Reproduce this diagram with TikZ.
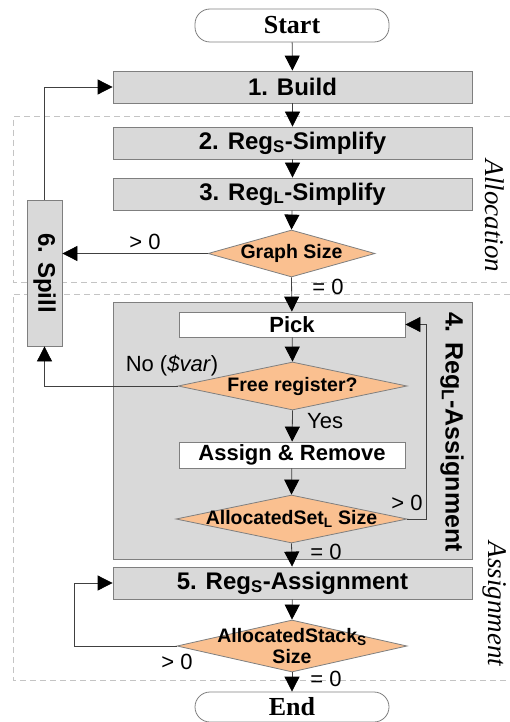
\documentclass[tikz,border=0pt]{standalone}
\usepackage{fontspec}
\usepackage{graphicx}
\setmainfont{Liberation Sans}
\newfontfamily\serifface{Liberation Serif}
\usetikzlibrary{shapes.geometric,arrows.meta}
\definecolor{boxgray}{HTML}{D9D9D9}
\definecolor{edgegray}{HTML}{7F7F7F}
\definecolor{peach}{HTML}{FAC090}
\definecolor{dashgray}{HTML}{C4C4C4}
\definecolor{wire}{HTML}{404040}
\begin{document}
\begin{tikzpicture}[x=1pt,y=-1pt,
  stage/.style={draw=edgegray, fill=boxgray, line width=0.8pt, minimum width=359pt,
    minimum height=32pt, inner sep=0pt, font=\fontsize{24}{28}\selectfont\bfseries},
  substage/.style={draw=edgegray, fill=white, line width=0.8pt, minimum width=226pt,
    minimum height=26pt, inner sep=0pt, font=\fontsize{22}{26}\selectfont\bfseries},
  decision/.style={diamond, draw=edgegray, fill=peach, line width=0.8pt, inner sep=0pt},
  dtext/.style={font=\fontsize{19.5}{21}\selectfont\bfseries, inner sep=0pt, align=center},
  term/.style={draw=edgegray, line width=0.8pt, rounded corners=15pt, minimum width=194pt,
    inner sep=0pt, font=\serifface\fontsize{26}{30}\selectfont\bfseries},
  flow/.style={draw=wire, line width=0.8pt, -{Triangle[length=15pt,width=15pt,color=black]}},
  edgelbl/.style={font=\fontsize{22}{26}\selectfont, inner sep=0pt},
  region/.style={draw=dashgray, dash pattern=on 6pt off 4pt, line width=1pt},
  regionlbl/.style={font=\serifface\itshape\fontsize{27}{30}\selectfont, rotate=-90, inner sep=0pt}
]
\useasboundingbox (0,0) rectangle (510,722);

% dashed phase regions (open to the right)
\draw[region] (540,117) -- (13,117) -- (13,282) -- (540,282);
\draw[region] (540,294) -- (13,294) -- (13,680) -- (540,680);
\node[regionlbl] (alloclbl) at (495,216) {Allocation};
\node[regionlbl] (assiglbl) at (495,604) {Assignment};

% terminators
\node[term, minimum height=33pt] (start) at (292,25.5) {Start};
\node[term, minimum height=30pt] (end) at (292,707) {End};

% allocation stages
\node[stage] (build) at (292.5,87) {1. Build};
\node[stage] (regs) at (292.5,143) {2. Reg\textsubscript{S}-Simplify};
\node[stage] (regl) at (292.5,194) {3. Reg\textsubscript{L}-Simplify};
\node[decision, minimum width=167pt, minimum height=47pt] (gsize) at (291.5,253.5) {};
\node[dtext] (gsize-t) at (gsize) {Graph Size};

% spill
\node[stage, minimum width=35pt, minimum height=146pt] (spill) at (44.5,273)
  {\rotatebox{-90}{\fontsize{24}{28}\selectfont\bfseries 6. Spill}};

% Reg_L assignment block
\node[stage, minimum width=359pt, minimum height=257pt] (block) at (292.5,430.5) {};
\node[font=\fontsize{25}{28}\selectfont\bfseries, rotate=-90, inner sep=0pt] (block-t)
  at (452,432) {4. Reg\textsubscript{L}-Assignment};
\node[substage, minimum height=25pt] (pick) at (292,324.5) {Pick};
\node[decision, minimum width=229pt, minimum height=48pt] (free) at (292.5,386) {};
\node[dtext] (free-t) at (free) {Free register?};
\node[substage] (assign) at (292,455) {Assign \& Remove};
\node[decision, minimum width=231pt, minimum height=48pt] (aset) at (291.5,519) {};
\node[dtext] (aset-t) at (aset) {AllocatedSet\textsubscript{L} Size};

% Reg_S assignment
\node[stage] (regsa) at (292.5,583) {5. Reg\textsubscript{S}-Assignment};
\node[decision, minimum width=230pt, minimum height=52pt] (astack) at (292,646) {};
\node[dtext] (astack-t) at (astack) {AllocatedStack\textsubscript{S}\\Size};

% bend points of the loops
\coordinate (rloop) at (426,0);
\coordinate (lloop) at (74,0);

% main flow
\draw[flow] (start) -- (build);
\draw[flow] (build) -- (regs);
\draw[flow] (regs) -- (regl);
\draw[flow] (regl) -- (gsize.north);
\draw[flow] (gsize.south) -- (pick);
\draw[flow] (pick) -- (free.north);
\draw[flow] (free.south) -- (assign);
\draw[flow] (assign) -- (aset.north);
\draw[flow] (aset.south) -- (regsa);
\draw[flow] (regsa) -- (astack.north);
\draw[flow] (astack.south) -- (end);

% spill paths
\draw[flow] (gsize.west) -- (gsize.west -| spill.east);
\draw[flow] (free.west) -| (spill.south);
\draw[flow] (spill.north) |- (build.west);

% loops
\draw[flow] (aset.east) -- (aset.east -| rloop) |- (pick.east);
\draw[flow] (astack.west) -- (astack.west -| lloop) |- (regsa.west);

% edge labels
\node[edgelbl] (l1) at (145,242) {> 0};
\node[edgelbl] (l2) at (328,287) {= 0};
\node[edgelbl] (l3) at (172,366) {No (\textit{\$var})};
\node[edgelbl, anchor=west] (l4) at (307,421) {Yes};
\node[edgelbl] (l5) at (407,503) {> 0};
\node[edgelbl] (l6) at (326,552) {= 0};
\node[edgelbl] (l7) at (177,662) {> 0};
\node[edgelbl] (l8) at (326,679) {= 0};
\end{tikzpicture}
\end{document}
